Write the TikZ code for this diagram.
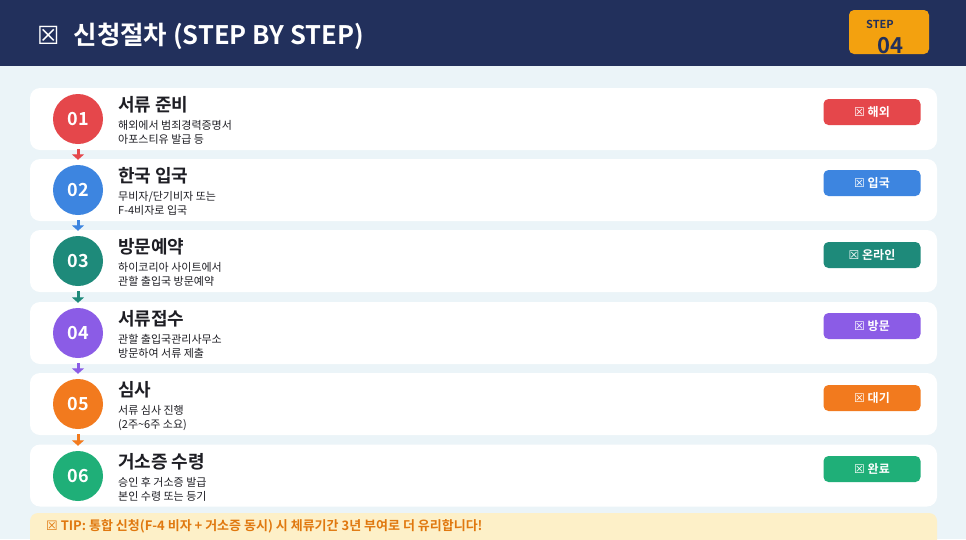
\documentclass[tikz,border=0pt]{standalone}
\usepackage{fontspec}
\usepackage{xcolor}
\usetikzlibrary{positioning,arrows.meta}
\newfontfamily\kr{Noto Sans CJK KR}[BoldFont={* Bold}]
\newfontfamily\symfont{DejaVu Sans}
\newcommand{\boxsym}{{\symfont\mdseries ☒}}

\definecolor{navy}{HTML}{22305C}
\definecolor{pagebg}{HTML}{EBF4F8}
\definecolor{stepred}{HTML}{E5474B}
\definecolor{stepblue}{HTML}{3D85E0}
\definecolor{stepteal}{HTML}{1E8A7A}
\definecolor{steppurple}{HTML}{8B5CE6}
\definecolor{steporange}{HTML}{F27A1E}
\definecolor{stepgreen}{HTML}{1FAF78}
\definecolor{badgegold}{HTML}{F3A10F}
\definecolor{tipbg}{HTML}{FDF0C8}
\definecolor{tiptext}{HTML}{E0780F}
\definecolor{darktext}{HTML}{1E1E24}

\tikzset{
  card/.style={fill=white, rounded corners=10pt, minimum width=907pt, minimum height=62pt, inner sep=0pt},
  num/.style={circle, minimum size=50pt, inner sep=0pt, text=white, font=\kr\bfseries\fontsize{18}{18}\selectfont},
  ttl/.style={anchor=base west, inner sep=0pt, text=darktext, font=\kr\bfseries\fontsize{18}{18}\selectfont},
  desc/.style={anchor=north west, inner sep=0pt, align=left, text=darktext, font=\kr\fontsize{11}{14}\selectfont},
  tag/.style={rounded corners=5pt, minimum width=97pt, minimum height=26pt, inner sep=0pt, text=white, font=\kr\bfseries\fontsize{12}{12}\selectfont},
  flow/.style={-{Triangle[width=12pt,length=5.5pt]}, line width=3pt, shorten <=5pt, shorten >=5pt}
}

\begin{document}
\begin{tikzpicture}[x=1pt, y=-1pt]
		\useasboundingbox (0,0) rectangle (966,539);
		\clip (0,0) rectangle (966,539);
		\fill[pagebg] (0,0) rectangle (966,539);

		% header
		\fill[navy] (0,0) rectangle (966,66);
		\node[anchor=west, inner sep=0pt, text=white, font=\kr\bfseries\fontsize{25.5}{25.5}\selectfont] (head) at (37,36) {{\symfont\mdseries\fontsize{25}{25}\selectfont ☒}\hspace{14pt}신청절차 (STEP BY STEP)};
		\node[fill=badgegold, rounded corners=5pt, minimum width=80pt, minimum height=44pt] (stepbadge) at (889,32) {};
		\node[inner sep=0pt, text=navy, font=\kr\bfseries\fontsize{11}{11}\selectfont] (steplbl) at (880,24) {STEP};
		\node[inner sep=0pt, text=navy, font=\kr\bfseries\fontsize{22}{22}\selectfont] (stepno) at (890,46) {04};

		% cards
		\node[card] (card1) at (483.5,119) {};
		\node[card] (card2) at (483.5,190) {};
		\node[card] (card3) at (483.5,261) {};
		\node[card] (card4) at (483.5,333) {};
		\node[card] (card5) at (483.5,404) {};
		\node[card] (card6) at (483.5,475.5) {};

		% numbers
		\node[num, fill=stepred] (c1) at (78,119) {01};
		\node[num, fill=stepblue] (c2) at (78,190) {02};
		\node[num, fill=stepteal] (c3) at (78,261) {03};
		\node[num, fill=steppurple] (c4) at (78,333) {04};
		\node[num, fill=steporange] (c5) at (78,404) {05};
		\node[num, fill=stepgreen] (c6) at (78,476) {06};

		% titles and texts
		\node[ttl] (t1) at (118,111) {서류 준비};
		\node[desc] (d1) at ([yshift=-7pt]t1.south west) {해외에서 범죄경력증명서\\아포스티유 발급 등};
		\node[ttl] (t2) at (118,182) {한국 입국};
		\node[desc] (d2) at ([yshift=-7pt]t2.south west) {무비자/단기비자 또는\\F-4비자로 입국};
		\node[ttl] (t3) at (118,253) {방문예약};
		\node[desc] (d3) at ([yshift=-7pt]t3.south west) {하이코리아 사이트에서\\관할 출입국 방문예약};
		\node[ttl] (t4) at (118,325) {서류접수};
		\node[desc] (d4) at ([yshift=-7pt]t4.south west) {관할 출입국관리사무소\\방문하여 서류 제출};
		\node[ttl] (t5) at (118,396) {심사};
		\node[desc] (d5) at ([yshift=-7pt]t5.south west) {서류 심사 진행\\(2주\textasciitilde 6주 소요)};
		\node[ttl] (t6) at (118,468) {거소증 수령};
		\node[desc] (d6) at ([yshift=-7pt]t6.south west) {승인 후 거소증 발급\\본인 수령 또는 등기};

		% badges
		\node[tag, fill=stepred] (b1) at (872,112) {\boxsym\ 해외};
		\node[tag, fill=stepblue] (b2) at (872,183) {\boxsym\ 입국};
		\node[tag, fill=stepteal] (b3) at (872,255) {\boxsym\ 온라인};
		\node[tag, fill=steppurple] (b4) at (872,326) {\boxsym\ 방문};
		\node[tag, fill=steporange] (b5) at (872,398) {\boxsym\ 대기};
		\node[tag, fill=stepgreen] (b6) at (872,469) {\boxsym\ 완료};

		% arrows
		\draw[flow, stepred] (c1) -- (c2);
		\draw[flow, stepblue] (c2) -- (c3);
		\draw[flow, stepteal] (c3) -- (c4);
		\draw[flow, steppurple] (c4) -- (c5);
		\draw[flow, steporange] (c5) -- (c6);

		% tip
		\fill[tipbg, rounded corners=8pt] (30,513) rectangle (937,560);
		\node[anchor=west, inner sep=0pt, text=tiptext, font=\kr\bfseries\fontsize{13}{13}\selectfont] (tip) at (46,526) {{\symfont\mdseries ☒} TIP: 통합 신청(F-4 비자 + 거소증 동시) 시 체류기간 3년 부여로 더 유리합니다!};
	\end{tikzpicture}
\end{document}
